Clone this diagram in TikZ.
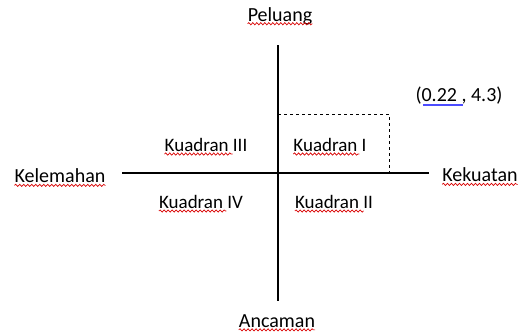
\documentclass[tikz,border=0pt]{standalone}
\usepackage{fontspec}
\setmainfont{Carlito}
\usetikzlibrary{decorations.pathmorphing, calc}

\begin{document}
\begin{tikzpicture}[x=1pt, y=-1pt,
    word/.style={inner sep=0pt, font=\fontsize{20}{22}\selectfont, text=black},
    quad/.style={word, font=\fontsize{19}{21}\selectfont},
    axis/.style={line width=1.6pt},
    typo/.style={draw=red!85!black, line width=0.7pt, decorate, decoration={snake, amplitude=1.1pt, segment length=4pt}}]
    \useasboundingbox (0,0) rectangle (521,333);

    % the four labels round the cross
    \path (280,16) node[word] (peluang) {Peluang};
    \path (277,321) node[word] (ancaman) {Ancaman};
    \path (60,176) node[word] (kelemahan) {Kelemahan};
    \path (480,175) node[word] (kekuatan) {Kekuatan};

    % the cross itself
    \coordinate (top) at (278,45);
    \coordinate (bottom) at (278,301);
    \coordinate (left) at (122,173);
    \coordinate (right) at (429,173);
    \draw[axis] (top) -- (bottom);
    \draw[axis] (left) -- (right);

    % quadrants
    \path (206,145) node[quad] (q3) {Kuadran III};
    \path (330,145) node[quad] (q1) {Kuadran I};
    \path (201,202) node[quad] (q4) {Kuadran IV};
    \path (334,202) node[quad] (q2) {Kuadran II};

    % the point
    \coordinate (corner) at (389,114);
    \draw[dashed, line width=0.6pt] (278,114) -- (corner) -- (389,173);
    \path (459,96) node[word] (point) {(0.22 , 4.3)};

    % underlines of the spell check
    \foreach \n in {peluang, ancaman, kelemahan, kekuatan}
      \draw[typo] ([yshift=-2.5pt]\n.base west) -- ([yshift=-2.5pt]\n.base east);
    \foreach \n/\f in {q3/0.82, q1/0.9, q4/0.8, q2/0.88}
      \draw[typo] ([yshift=-2.5pt]\n.base west) -- ([yshift=-2.5pt]$(\n.base west)!\f!(\n.base east)$);
    \draw[blue!70, line width=1.2pt] ([xshift=8pt, yshift=-3pt]point.base west) -- ([xshift=-40pt, yshift=-3pt]point.base east);

\end{tikzpicture}
\end{document}
